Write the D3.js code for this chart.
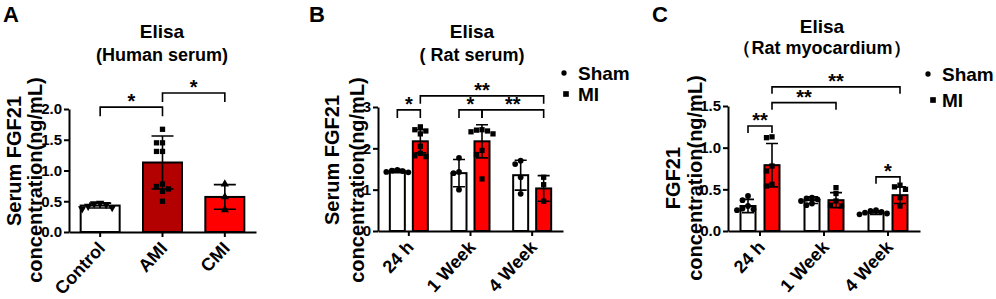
<!DOCTYPE html>
<html>
<head>
<meta charset="utf-8">
<script src="https://cdn.jsdelivr.net/npm/d3@7"></script>
<style>
  body { margin: 0; background: #fff; }
  svg text { font-family: "Liberation Sans", Arial, sans-serif; font-weight: bold; }
</style>
</head>
<body>
<script>
// ---- data ----
// Panel A: human serum
const aGroups = ["Control", "AMI", "CMI"];
const aMeans = [0.43, 1.13, 0.57];
const aSds = [0.04, 0.43, 0.20];
const aPoints = [
    [0.47, 0.46, 0.45, 0.42, 0.40, 0.38],
    [1.67, 1.45, 1.45, 1.31, 1.31, 0.78, 0.74, 0.70, 0.66, 0.50],
    [0.78, 0.57, 0.36]
];
const aBrackets = [
    { from: 0, to: 1, y: 2.03, label: "*" },
    { from: 1, to: 2, y: 2.26, label: "*" }
];

// Panel B: rat serum
const timeGroups = ["24 h", "1 Week", "4 Week"];
const bShamMeans = [1.45, 1.40, 1.35];
const bShamSds = [0.04, 0.33, 0.36];
const bShamPoints = [
    [1.48, 1.46, 1.45, 1.43, 1.42],
    [1.77, 1.43, 1.40, 1.00],
    [1.70, 1.62, 1.30, 0.90]
];
const bMiMeans = [2.17, 2.17, 1.03];
const bMiSds = [0.28, 0.40, 0.31];
const bMiPoints = [
    [2.52, 2.45, 2.42, 2.35, 2.05, 1.88, 1.82, 1.80],
    [2.45, 2.44, 2.42, 2.40, 2.35, 1.95, 1.85, 1.26],
    [1.30, 1.12, 0.72]
];
// bracket ends: [group, series]
const bBrackets = [
    { from: [0, 0], to: [0, 1], y: 2.93, label: "*" },
    { from: [1, 0], to: [1, 1], y: 2.93, label: "*" },
    { from: [1, 1], to: [2, 1], y: 2.93, label: "**" },
    { from: [0, 1], to: [2, 1], y: 3.27, label: "**" }
];

// Panel C: rat myocardium
const cShamMeans = [0.30, 0.37, 0.22];
const cShamSds = [0.08, 0.04, 0.02];
const cShamPoints = [
    [0.42, 0.37, 0.30, 0.27, 0.26, 0.25],
    [0.40, 0.39, 0.38, 0.36, 0.33, 0.31],
    [0.25, 0.24, 0.23, 0.22, 0.21, 0.20]
];
const cMiMeans = [0.79, 0.37, 0.43];
const cMiSds = [0.26, 0.09, 0.10];
const cMiPoints = [
    [1.13, 1.12, 0.78, 0.72, 0.56, 0.54],
    [0.52, 0.45, 0.36, 0.31, 0.30],
    [0.55, 0.53, 0.50, 0.40, 0.30]
];
const cBrackets = [
    { from: [0, 0], to: [0, 1], y: 1.26, label: "**" },
    { from: [0, 1], to: [1, 1], y: 1.54, label: "**" },
    { from: [0, 1], to: [2, 1], y: 1.73, label: "**" },
    { from: [2, 0], to: [2, 1], y: 0.65, label: "*" }
];

const W = 996, H = 299;
const svg = d3.select("body").append("svg").attr("width", W).attr("height", H);

// beeswarm-ish spread so equal values sit side by side (no randomness)
function spread(values, y, step) {
    const placed = [];
    return values.map(v => {
        const py = y(v);
        const tries = [0, -1, 1, -2, 2, -3, 3];
        for (const t of tries) {
            const px = t * step;
            if (placed.every(p => Math.hypot(p[0] - px, p[1] - py) >= step * 0.95)) {
                placed.push([px, py]);
                return px;
            }
        }
        return 0;
    });
}

function drawPanel(cfg) {
    const g = svg.append("g");
    const y = d3.scaleLinear().domain(cfg.domain).range([cfg.y0, cfg.yTop]);
    const x = d3.scaleBand().domain(cfg.groups).range([cfg.x0, cfg.x1]);
    const cx = i => x(cfg.groups[i]) + x.bandwidth() / 2;
    const barX = (gi, si) => cx(gi) + cfg.offsets[si];

    // bars
    cfg.series.forEach((s, si) => {
        s.means.forEach((m, gi) => {
            const fill = Array.isArray(s.color) ? s.color[gi] : s.color;
            g.append("rect")
                .attr("x", barX(gi, si) - cfg.barW / 2)
                .attr("y", y(m))
                .attr("width", cfg.barW)
                .attr("height", cfg.y0 - y(m))
                .attr("fill", fill)
                .attr("stroke", "#000")
                .attr("stroke-width", 2);
        });
    });

    // error bars (mean ± SD)
    cfg.series.forEach((s, si) => {
        s.means.forEach((m, gi) => {
            const bx = barX(gi, si), sd = s.sds[gi], hw = cfg.capW / 2;
            g.append("path")
                .attr("d", `M${bx},${y(m - sd)}V${y(m + sd)}M${bx - hw},${y(m + sd)}H${bx + hw}M${bx - hw},${y(m - sd)}H${bx + hw}`)
                .attr("stroke", "#000").attr("stroke-width", 1.6).attr("fill", "none");
        });
    });

    // individual points
    cfg.series.forEach((s, si) => {
        s.points.forEach((pts, gi) => {
            const shape = Array.isArray(s.shape) ? s.shape[gi] : s.shape;
            const offs = spread(pts, y, cfg.ptStep);
            pts.forEach((v, k) => {
                const sym = d3.symbol().type(shape.type).size(shape.size);
                g.append("path")
                    .attr("d", sym())
                    .attr("transform", `translate(${barX(gi, si) + offs[k]},${y(v)}) rotate(${shape.rot || 0})`)
                    .attr("fill", "#000");
            });
        });
    });

    // axes
    const yAxis = d3.axisLeft(y).tickValues(cfg.ticks).tickFormat(d3.format(cfg.fmt))
        .tickSize(5).tickSizeOuter(0).tickPadding(2);
    const ya = g.append("g").attr("transform", `translate(${cfg.x0},0)`).call(yAxis);
    ya.select(".domain").attr("stroke-width", 2);
    ya.selectAll(".tick line").attr("stroke-width", 2);
    ya.selectAll(".tick text").attr("font-size", 15).attr("fill", "#000");

    const xAxis = d3.axisBottom(x).tickSize(5).tickSizeOuter(0).tickFormat("");
    const xa = g.append("g").attr("transform", `translate(0,${cfg.y0})`).call(xAxis);
    xa.select(".domain").attr("stroke-width", 2);
    xa.selectAll(".tick line").attr("stroke-width", 2);

    cfg.groups.forEach((name, i) => {
        g.append("text")
            .attr("transform", `translate(${cx(i) + 6},${cfg.y0 + 17}) rotate(-47)`)
            .attr("text-anchor", "end")
            .attr("font-size", 18)
            .text(name);
    });

    // significance brackets
    const leg = cfg.leg;
    cfg.brackets.forEach(b => {
        const x1 = Array.isArray(b.from) ? barX(b.from[0], b.from[1]) : cx(b.from);
        const x2 = Array.isArray(b.to) ? barX(b.to[0], b.to[1]) : cx(b.to);
        const by = y(b.y);
        g.append("path")
            .attr("d", `M${x1},${by + leg}V${by}H${x2}V${by + leg}`)
            .attr("stroke", "#000").attr("stroke-width", 1.6).attr("fill", "none");
        g.append("text")
            .attr("x", (x1 + x2) / 2).attr("y", by + 1)
            .attr("text-anchor", "middle")
            .attr("font-size", 20)
            .text(b.label);
    });

    // titles
    cfg.title.forEach((t, i) => {
        g.append("text")
            .attr("x", cfg.titleX).attr("y", cfg.titleY[i])
            .attr("text-anchor", "middle")
            .attr("font-size", i === 0 ? 19 : 18)
            .text(t);
    });

    // y label (two lines)
    cfg.ylab.forEach((t, i) => {
        g.append("text")
            .attr("transform", `translate(${cfg.ylabX[i]},${cfg.ylabY[i]}) rotate(-90)`)
            .attr("text-anchor", "middle")
            .attr("dy", "0.35em")
            .attr("font-size", 20)
            .text(t);
    });

    // panel letter
    svg.append("text")
        .attr("x", cfg.letterX).attr("y", 22)
        .attr("font-size", 22)
        .text(cfg.letter);

    // legend
    if (cfg.legend) {
        const L = cfg.legend;
        const items = [{ name: "Sham", type: d3.symbolCircle, size: 22 }, { name: "MI", type: d3.symbolSquare, size: 32 }];
        items.forEach((it, i) => {
            g.append("path")
                .attr("d", d3.symbol().type(it.type).size(it.size)())
                .attr("transform", `translate(${L.symX[i]},${L.y[i]})`)
                .attr("fill", "#000");
            g.append("text")
                .attr("x", L.textX).attr("y", L.y[i] + 7)
                .attr("font-size", 19)
                .text(it.name);
        });
    }
}

const tri = { type: d3.symbolTriangle, size: 30 };
const triDown = { type: d3.symbolTriangle, size: 30, rot: 180 };
const sq = { type: d3.symbolSquare, size: 28 };
const dot = { type: d3.symbolCircle, size: 26 };

drawPanel({
    letter: "A", letterX: 3,
    groups: aGroups, domain: [0, 2], ticks: [0, 0.5, 1, 1.5, 2], fmt: ".1f",
    x0: 69, x1: 256, y0: 232, yTop: 109,
    offsets: [0], barW: 39, capW: 22, ptStep: 6, leg: 9,
    series: [{ means: aMeans, sds: aSds, points: aPoints,
               color: ["#ffffff", "#b30000", "#ff0000"], shape: [triDown, sq, tri] }],
    brackets: aBrackets,
    title: ["Elisa", "(Human serum)"], titleX: 162, titleY: [38, 61],
    ylab: ["Serum FGF21", "concentration(ng/mL)"], ylabX: [14, 35], ylabY: [161, 180]
});

drawPanel({
    letter: "B", letterX: 309,
    groups: timeGroups, domain: [0, 3], ticks: [0, 1, 2, 3], fmt: "d",
    x0: 378, x1: 563, y0: 231, yTop: 107,
    offsets: [-11.5, 11.5], barW: 15, capW: 12, ptStep: 5.5, leg: 8,
    series: [
        { means: bShamMeans, sds: bShamSds, points: bShamPoints, color: "#ffffff", shape: dot },
        { means: bMiMeans, sds: bMiSds, points: bMiPoints, color: "#ff0000", shape: sq }
    ],
    brackets: bBrackets,
    title: ["Elisa", "( Rat serum)"], titleX: 472, titleY: [38, 61],
    ylab: ["Serum FGF21", "concentration(ng/mL)"], ylabX: [332, 357], ylabY: [160, 180],
    legend: { symX: [564, 566], y: [73, 94], textX: 578 }
});

drawPanel({
    letter: "C", letterX: 652,
    groups: timeGroups, domain: [0, 1.5], ticks: [0, 0.5, 1, 1.5], fmt: ".1f",
    x0: 728, x1: 920, y0: 231, yTop: 106,
    offsets: [-12, 12], barW: 15, capW: 12, ptStep: 5.5, leg: 7,
    series: [
        { means: cShamMeans, sds: cShamSds, points: cShamPoints, color: "#ffffff", shape: dot },
        { means: cMiMeans, sds: cMiSds, points: cMiPoints, color: "#ff0000", shape: sq }
    ],
    brackets: cBrackets,
    title: ["Elisa", "（Rat myocardium）"], titleX: 822, titleY: [33, 54],
    ylab: ["FGF21", "concentration(ng/mL)"], ylabX: [673, 695], ylabY: [178, 178],
    legend: { symX: [928, 933], y: [74, 100], textX: 942 }
});
</script>
</body>
</html>
